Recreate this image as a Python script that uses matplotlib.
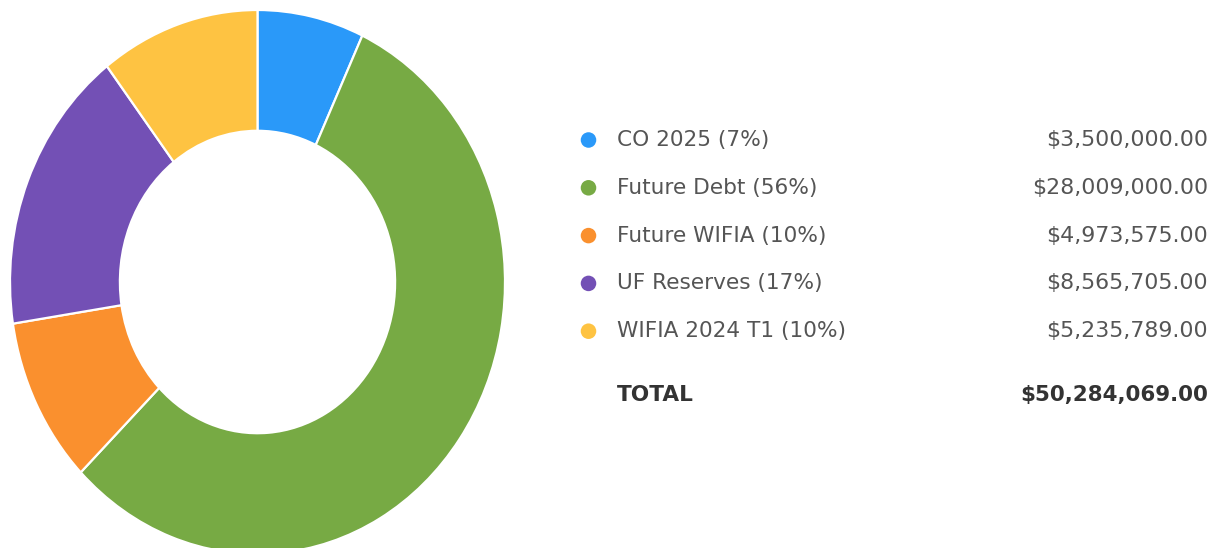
import matplotlib.pyplot as plt
import numpy as np

# funding sources
labels = ['CO 2025', 'Future Debt', 'Future WIFIA', 'UF Reserves', 'WIFIA 2024 T1']
values = [3500000.00, 28009000.00, 4973575.00, 8565705.00, 5235789.00]
colors = ['#2a99f9', '#77aa44', '#fa902e', '#7350b5', '#fec342']

total = sum(values)
pcts = [round(v / total * 100) for v in values]

plt.rcParams['font.family'] = ['DejaVu Sans']

fig = plt.figure(figsize=(12.17, 5.48), dpi=100)
W, H = 1217, 548

# donut (slightly stretched vertically, bottom runs off the canvas)
ax = fig.add_axes([10 / W, -6 / H, 495 / W, 544 / H])
ax.pie(values, colors=colors, startangle=90, counterclock=False, radius=1,
       wedgeprops=dict(width=0.444, edgecolor='white', linewidth=1.6))
ax.set_aspect('auto')
ax.set_xlim(-1, 1)
ax.set_ylim(-1, 1)
ax.axis('off')

# legend / table on the right, pixel coordinates
lg = fig.add_axes([0, 0, 1, 1])
lg.set_xlim(0, W)
lg.set_ylim(H, 0)
lg.axis('off')

row_y = 140
step = 47.8
for lab, v, p, c in zip(labels, values, pcts, colors):
    lg.scatter([588.5], [row_y], s=125, color=c, edgecolors='none')
    lg.text(617, row_y, f'{lab} ({p}%)', fontsize=15.6, color='#555555',
            va='center', ha='left')
    lg.text(1208, row_y, f'${v:,.2f}', fontsize=15.9, color='#555555',
            va='center', ha='right')
    row_y += step

lg.text(617, 395, 'TOTAL', fontsize=15.6, color='#333333', fontweight='bold',
        va='center', ha='left')
lg.text(1208, 395, f'${total:,.2f}', fontsize=15.4, color='#333333',
        fontweight='bold', va='center', ha='right')

fig.savefig('out.png', dpi=100)
